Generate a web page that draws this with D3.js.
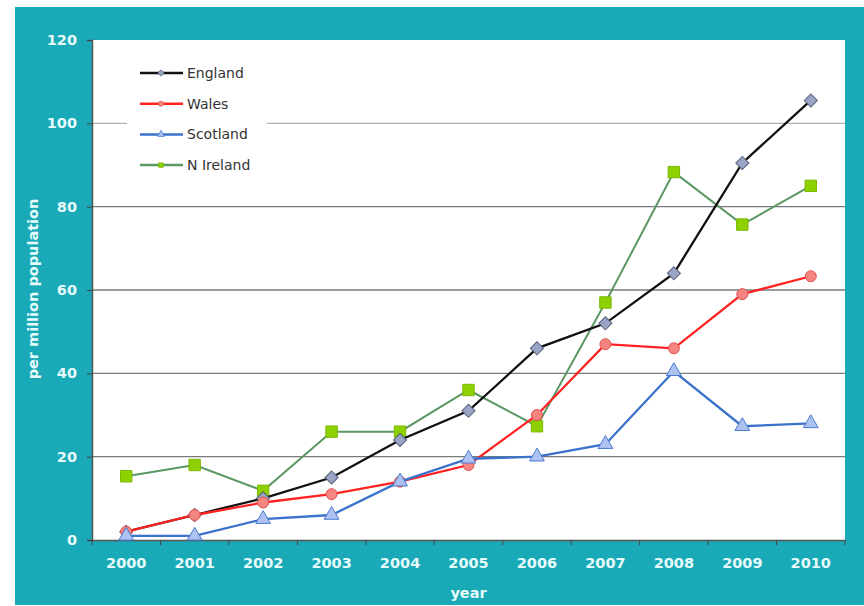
<!DOCTYPE html>
<html><head><meta charset="utf-8">
<script src="https://cdn.jsdelivr.net/npm/d3@7"></script>
<style>html,body{margin:0;padding:0;background:#fff;}svg{display:block;}</style>
</head><body>
<svg id="chart" width="864" height="606"></svg>
<script>
const years = ["2000","2001","2002","2003","2004","2005","2006","2007","2008","2009","2010"];
const england  = [2, 6, 10, 15, 24, 31, 46, 52, 64, 90.5, 105.5];
const wales    = [2, 6, 9, 11, 14, 18, 30, 47, 46, 59, 63.3];
const scotland = [1, 1, 5, 6, 14, 19.5, 20, 23, 40.5, 27.3, 28];
const nireland = [15.3, 18, 11.8, 26, 26, 36, 27.3, 57, 88.3, 75.7, 85];
const yTicks = [0, 20, 40, 60, 80, 100, 120];

const series = [
  {name:"England",  values:england,  line:"#111111", fill:"#9aa5c6", stroke:"#55607a", shape:d3.symbolSquare, size:85, rot:45},
  {name:"Wales",    values:wales,    line:"#ff2222", fill:"#f4857f", stroke:"#e05050", shape:d3.symbolCircle, size:95, rot:0},
  {name:"Scotland", values:scotland, line:"#3a72cc", fill:"#aec2f2", stroke:"#4a7ad0", shape:d3.symbolTriangle, size:95, rot:0},
  {name:"N Ireland",values:nireland, line:"#5b9763", fill:"#8fd000", stroke:"#7ab800", shape:d3.symbolSquare, size:130, rot:0}
];

const svg = d3.select("#chart");
const teal = "#1aa9b6";
const labelColor = "#e6fbfb";
const FONT = "DejaVu Sans, Verdana, sans-serif";
svg.append("rect").attr("x",15).attr("y",7).attr("width",849).attr("height",598).attr("fill",teal);

const L=92, R=845, T=40, B=540;
svg.append("rect").attr("x",L).attr("y",T).attr("width",R-L).attr("height",B-T).attr("fill","#fff");

const x = d3.scaleBand().domain(years).range([L,R]);
const y = d3.scaleLinear().domain([0,120]).range([B,T]);

// gridlines
svg.append("g").selectAll("line").data(yTicks.filter(d=>d>0 && d<120)).join("line")
  .attr("x1",L).attr("x2",R).attr("y1",d=>y(d)).attr("y2",d=>y(d))
  .attr("stroke",d=>d===100?"#b0b0b0":"#7a7a7a").attr("stroke-width",1.3);

// axes
const yAxis = svg.append("g").attr("transform",`translate(${L},0)`)
  .call(d3.axisLeft(y).tickValues(yTicks).tickSize(5).tickPadding(10));
const xAxis = svg.append("g").attr("transform",`translate(0,${B})`)
  .call(d3.axisBottom(x).tickSize(0).tickPadding(18));
[yAxis,xAxis].forEach(g=>{
  g.select(".domain").attr("stroke","#555").attr("stroke-width",1.5);
  g.selectAll(".tick line").attr("stroke","#444");
  g.selectAll("text").attr("fill",labelColor).style("font-family",FONT)
    .style("font-size","14.5px").style("font-weight","bold");
});
// x boundary ticks
svg.append("g").selectAll("line").data(years.concat(["end"])).join("line")
  .attr("x1",(d,i)=>L+i*x.step()).attr("x2",(d,i)=>L+i*x.step())
  .attr("y1",B).attr("y2",B+5).attr("stroke","#444");

// axis titles
svg.append("text").attr("x",(L+R)/2).attr("y",598).attr("text-anchor","middle")
  .attr("fill",labelColor).style("font-family",FONT).style("font-size","14.5px").style("font-weight","bold").text("year");
svg.append("text").attr("transform","translate(38,289) rotate(-90)").attr("text-anchor","middle")
  .attr("fill",labelColor).style("font-family",FONT).style("font-size","14.5px").style("font-weight","bold").text("per million population");

// legend background
svg.append("rect").attr("x",127).attr("y",55).attr("width",140).attr("height",125).attr("fill","#fff");

// lines
const line = d3.line().x((d,i)=>x(years[i])+x.bandwidth()/2).y(d=>y(d));
const order = [series[3], series[0], series[1], series[2]];
order.forEach(s=>{
  svg.append("path").datum(s.values).attr("d",line).attr("fill","none")
    .attr("stroke",s.line).attr("stroke-width",s.name==="N Ireland"?2:2.3);
  svg.append("g").selectAll("path").data(s.values).join("path")
    .attr("transform",(d,i)=>`translate(${x(years[i])+x.bandwidth()/2},${y(d)}) rotate(${s.rot})`)
    .attr("d",d3.symbol().type(s.shape).size(s.size))
    .attr("fill",s.fill).attr("stroke",s.stroke).attr("stroke-width",1);
});

// legend
const lg = svg.append("g");
series.forEach((s,i)=>{
  const yy = 73 + i*30.7;
  lg.append("line").attr("x1",140).attr("x2",183).attr("y1",yy).attr("y2",yy).attr("stroke",s.line).attr("stroke-width",2.5);
  lg.append("path").attr("transform",`translate(161,${yy}) rotate(${s.rot})`).attr("d",d3.symbol().type(s.shape).size(20))
    .attr("fill",s.fill).attr("stroke",s.stroke).attr("stroke-width",0.8);
  lg.append("text").attr("x",187).attr("y",yy+5).attr("fill","#333")
    .style("font-family","DejaVu Sans, Tahoma, sans-serif").style("font-size","14px").text(s.name);
});
</script>
</body></html>
